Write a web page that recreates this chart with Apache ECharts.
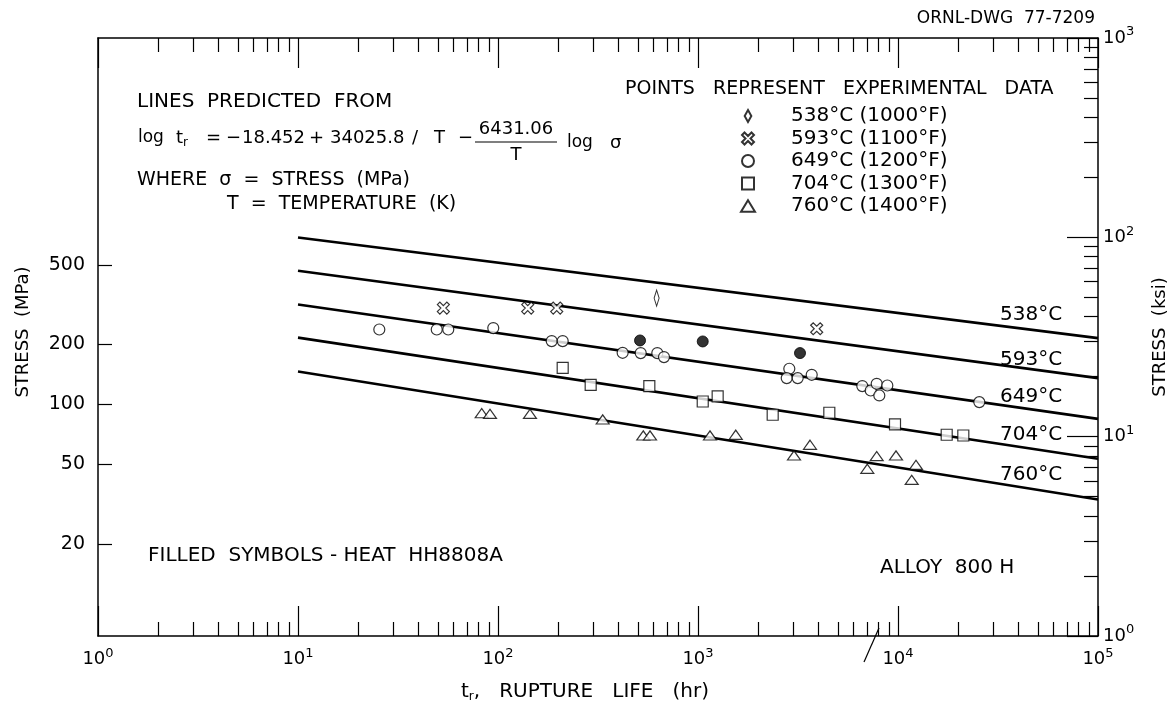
<!DOCTYPE html>
<html>
<head>
<meta charset="utf-8">
<script src="https://cdn.jsdelivr.net/npm/echarts@6/dist/echarts.min.js"></script>
<style>
  html, body { margin: 0; padding: 0; background: #fff; }
  #chart { width: 1172px; height: 701px; }
</style>
</head>
<body>
<div id="chart"></div>
<script>
// ---- data -------------------------------------------------------------
// rupture life (hr) at the two ends of each predicted line
const lineLife = [10, 100000];
const lineNames = ['538°C', '593°C', '649°C', '704°C', '760°C'];
// predicted stress (MPa) at 10 hr and at 100 000 hr
const line538 = [687.6, 215.2];
const line593 = [468.9, 135.6];
const line649 = [317.4, 84.7];
const line704 = [216.4, 53.4];
const line760 = [146.5, 33.4];

// experimental points: [rupture life (hr), stress (MPa)]
const pts538 = [[621, 342]];
const pts593 = [[53.3, 304.5], [140.8, 304.5], [196.6, 304.5], [3922, 239.8]];
const pts649 = [
  [25.5, 237.8], [49.4, 237.8], [56.4, 237.8], [94.7, 241.7], [185.6, 208.0],
  [210.6, 208.0], [420, 181.7], [517, 181.1], [626, 181.1], [676, 172.9],
  [2861, 151.1], [2777, 135.6], [3151, 135.6], [3703, 140.9], [6630, 123.7],
  [7303, 117.5], [7825, 127.0], [8843, 124.5], [8064, 111.0], [25500, 102.8]
];
const pts649Filled = [[513, 209.5], [1056, 207.1], [3236, 181.1]];
const pts704 = [
  [210.6, 152.8], [290.7, 125.5], [571, 123.7], [1056, 103.5], [1254, 109.7],
  [2363, 88.8], [4535, 90.9], [9661, 79.4], [17520, 70.5], [21210, 69.9]
];
const pts760 = [
  [82.9, 90.5], [91.2, 89.8], [144.5, 89.8], [333.8, 84.1], [532.7, 69.9],
  [575.4, 69.9], [1148, 69.9], [1544, 70.5], [3020, 55.5], [3631, 62.8],
  [7023, 47.6], [7825, 55.1], [9772, 55.5], [11710, 41.9], [12300, 49.8]
];

const legendNames = [
  '538°C (1000°F)', '593°C (1100°F)', '649°C (1200°F)', '704°C (1300°F)', '760°C (1400°F)'
];

// axis ticks
const lifeDecades = [1, 10, 100, 1000, 10000, 100000];
const mpaTicks = [20, 50, 100, 200, 500];
const ksiDecades = [1, 10, 100, 1000];
const MPA_PER_KSI = 6.895;

function minorTicks(firstExp, lastExp) {
  const out = [];
  for (let e = firstExp; e <= lastExp; e++) {
    for (let m = 2; m <= 9; m++) out.push(m * Math.pow(10, e));
  }
  return out;
}
const lifeMinor = minorTicks(0, 4);
const ksiMinor = minorTicks(0, 2);

// ---- styling ----------------------------------------------------------
const FONT = "'DejaVu Sans', 'Liberation Sans', sans-serif";
const INK = '#000';

const supRich = {
  b: { fontSize: 18, fontFamily: FONT, color: INK },
  s: { fontSize: 13, fontFamily: FONT, color: INK, padding: [0, 0, 12, 0] }
};
const supFormatter = v => '{b|10}{s|' + Math.round(Math.log10(v)) + '}';

function lifeAxis(position, ticks, len, withLine, withLabel) {
  const ax = {
    type: 'log', logBase: 10, min: 1, max: 100000, position,
    axisLine: { show: withLine, lineStyle: { color: INK, width: 1.5 } },
    axisTick: { show: true, inside: true, length: len, customValues: ticks,
                lineStyle: { color: INK, width: 1.2 } },
    axisLabel: { show: false },
    splitLine: { show: false },
    minorTick: { show: false }
  };
  if (withLabel) {
    ax.axisLabel = { show: true, customValues: ticks, formatter: supFormatter,
                     rich: supRich, margin: 11 };
    ax.name = '{i|t}{sub|r}{i|,   RUPTURE   LIFE   (hr)}';
    ax.nameLocation = 'middle';
    ax.nameGap = 45;
    ax.nameTextStyle = {
      padding: [0, 26, 0, 0],
      rich: {
        i: { fontSize: 20, fontFamily: FONT, color: INK },
        sub: { fontSize: 12, fontFamily: FONT, color: INK, padding: [10, 0, 0, 0] }
      }
    };
  }
  return ax;
}

// marker outlines (paths keep their proportions in the legend too)
const crossPath = 'path://M0 2.5 L2.5 0 L6 3.5 L9.5 0 L12 2.5 L8.5 6 L12 9.5 L9.5 12 L6 8.5 L2.5 12 L0 9.5 L3.5 6 Z';
const diamondPath = 'path://M5 0 L10 9 L5 18 L0 9 Z';
const squarePath = 'path://M0 0 L10 0 L10 10 L0 10 Z';
const trianglePath = 'path://M6 0 L12 10 L0 10 Z';
const hollow = { color: '#fff', borderColor: INK, borderWidth: 1.2 };

function lineSeries(name, ends) {
  return {
    type: 'line', name, xAxisIndex: 0, yAxisIndex: 0, z: 2,
    data: [[lineLife[0], ends[0]], [lineLife[1], ends[1]]],
    symbol: 'none', silent: true,
    lineStyle: { color: INK, width: 2.6 }
  };
}
function pointSeries(name, data, symbol, size, style) {
  return {
    type: 'scatter', name, xAxisIndex: 0, yAxisIndex: 0, z: 4,
    data, symbol, symbolSize: size, symbolKeepAspect: true,
    itemStyle: style || hollow
  };
}

function txt(x, y, text, opts) {
  return {
    type: 'text', x, y, silent: true, z: 10,
    style: Object.assign({
      text, fontSize: 19, fontFamily: FONT, fill: INK,
      align: 'left', verticalAlign: 'middle'
    }, opts || {})
  };
}

const chart = echarts.init(document.getElementById('chart'), null, { renderer: 'canvas' });

chart.setOption({
  animation: false,
  backgroundColor: '#fff',
  grid: { left: 98, right: 74, top: 38, bottom: 65, containLabel: false, outerBoundsMode: 'none' },
  xAxis: [
    lifeAxis('bottom', lifeDecades, 30, true, true),
    lifeAxis('bottom', lifeMinor, 14, false, false),
    lifeAxis('top', lifeDecades, 30, true, false),
    lifeAxis('top', lifeMinor, 14, false, false)
  ],
  yAxis: [
    {
      type: 'log', logBase: 10, min: MPA_PER_KSI, max: MPA_PER_KSI * 1000, position: 'left',
      axisLine: { show: true, lineStyle: { color: INK, width: 1.5 } },
      axisTick: { show: true, inside: true, length: 14, customValues: mpaTicks,
                  lineStyle: { color: INK, width: 1.2 } },
      axisLabel: { show: true, customValues: mpaTicks, margin: 13,
                   fontSize: 19, fontFamily: FONT, color: INK },
      splitLine: { show: false },
      name: 'STRESS  (MPa)', nameLocation: 'middle', nameRotate: 90, nameGap: 66,
      nameTextStyle: { fontSize: 18, fontFamily: FONT, color: INK, padding: [0, 0, 0, 10] }
    },
    {
      type: 'log', logBase: 10, min: 1, max: 1000, position: 'right',
      axisLine: { show: true, lineStyle: { color: INK, width: 1.5 } },
      axisTick: { show: true, inside: true, length: 31, customValues: ksiDecades,
                  lineStyle: { color: INK, width: 1.2 } },
      axisLabel: { show: true, customValues: ksiDecades, formatter: supFormatter,
                   rich: supRich, margin: 5 },
      splitLine: { show: false },
      name: 'STRESS  (ksi)', nameLocation: 'middle', nameRotate: 90, nameGap: 53,
      nameTextStyle: { fontSize: 18, fontFamily: FONT, color: INK }
    },
    {
      type: 'log', logBase: 10, min: 1, max: 1000, position: 'right',
      axisLine: { show: false },
      axisTick: { show: true, inside: true, length: 14, customValues: ksiMinor,
                  lineStyle: { color: INK, width: 1.2 } },
      axisLabel: { show: false },
      splitLine: { show: false }
    }
  ],
  legend: {
    data: legendNames,
    orient: 'vertical',
    left: 740, top: 106, padding: 0,
    itemWidth: 14, itemHeight: 12, itemGap: 2.5,
    symbolKeepAspect: true,
    selectedMode: false,
    textStyle: { fontSize: 20, fontFamily: FONT, color: INK, lineHeight: 18,
                 padding: [0, 0, 0, 31] }
  },
  series: [
    lineSeries(lineNames[0], line538),
    lineSeries(lineNames[1], line593),
    lineSeries(lineNames[2], line649),
    lineSeries(lineNames[3], line704),
    lineSeries(lineNames[4], line760),
    pointSeries(legendNames[0], pts538, diamondPath, [9, 16]),
    pointSeries(legendNames[1], pts593, crossPath, 12),
    pointSeries(legendNames[2], pts649, 'circle', 11),
    pointSeries(legendNames[3], pts704, squarePath, 11),
    pointSeries(legendNames[4], pts760, trianglePath, [13, 11]),
    pointSeries('HEAT HH8808A', pts649Filled, 'circle', 11,
                { color: INK, borderColor: INK, borderWidth: 1 })
  ],
  graphic: [
    txt(1095, 19, 'ORNL-DWG  77-7209', { fontSize: 17, align: 'right' }),
    txt(137, 102, 'LINES  PREDICTED  FROM', { fontSize: 20 }),
    // log t_r = -18.452 + 34025.8/T - (6431.06/T) log sigma
    txt(138, 138, 'log', { fontSize: 17 }),
    txt(176, 138, 't{sub|r}', {
      fontSize: 18,
      rich: { sub: { fontSize: 12, fontFamily: FONT, fill: INK, padding: [10, 0, 0, 0] } }
    }),
    txt(206, 138, '=', { fontSize: 18 }),
    txt(226, 138, '−', { fontSize: 18 }),
    txt(242, 138, '18.452', { fontSize: 18 }),
    txt(309, 138, '+', { fontSize: 18 }),
    txt(330, 138, '34025.8', { fontSize: 18 }),
    txt(412, 138, '/', { fontSize: 18 }),
    txt(434, 138, 'T', { fontSize: 18 }),
    txt(458, 138, '−', { fontSize: 18 }),
    txt(516, 129, '6431.06', { fontSize: 18, align: 'center' }),
    { type: 'line', silent: true, z: 10,
      shape: { x1: 475, y1: 142, x2: 557, y2: 142 },
      style: { stroke: INK, lineWidth: 1.2 } },
    txt(516, 155, 'T', { fontSize: 18, align: 'center' }),
    txt(567, 143, 'log', { fontSize: 17 }),
    txt(610, 143, 'σ', { fontSize: 18 }),
    txt(137, 180, 'WHERE  σ  =  STRESS  (MPa)'),
    txt(227, 204, 'T  =  TEMPERATURE  (K)'),
    txt(625, 89, 'POINTS   REPRESENT   EXPERIMENTAL   DATA', { fontSize: 19 }),
    txt(1000, 315, lineNames[0], { fontSize: 20 }),
    txt(1000, 360, lineNames[1], { fontSize: 20 }),
    txt(1000, 397, lineNames[2], { fontSize: 20 }),
    txt(1000, 435, lineNames[3], { fontSize: 20 }),
    txt(1000, 475, lineNames[4], { fontSize: 20 }),
    txt(148, 556, 'FILLED  SYMBOLS - HEAT  HH8808A', { fontSize: 20 }),
    txt(880, 568, 'ALLOY  800 H', { fontSize: 20 }),
    { type: 'line', silent: true, z: 10,
      shape: { x1: 864, y1: 662, x2: 879, y2: 628 },
      style: { stroke: INK, lineWidth: 1.2 } }
  ]
});
</script>
</body>
</html>
